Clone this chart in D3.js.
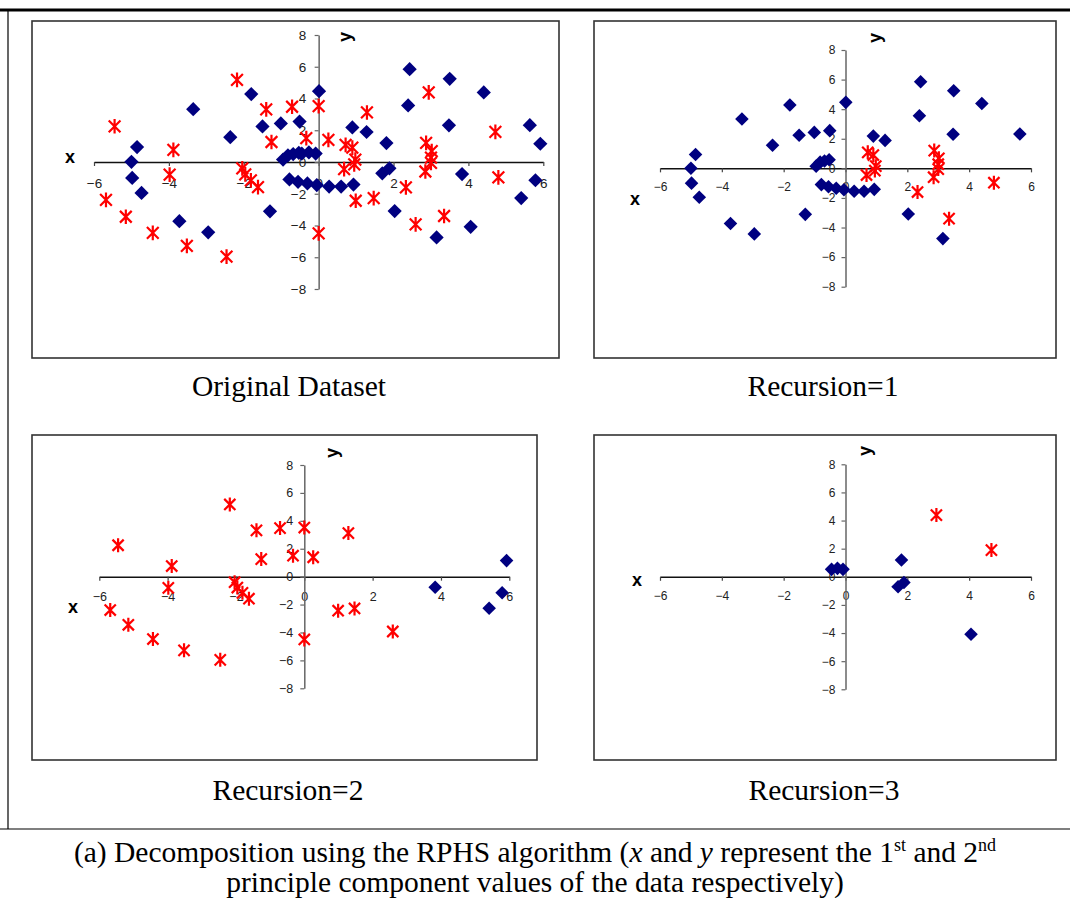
<!DOCTYPE html>
<html lang="en">
<head>
  <meta charset="UTF-8" />
  <title>RPHS decomposition</title>
  <script src="https://d3js.org/d3.v7.min.js"></script>
  <style>
    body { margin: 0; background: #fff; }
    svg text { font-family: "Liberation Sans", Arial, sans-serif; }
    .cap { font-family: "Liberation Serif", "Times New Roman", serif; fill: #000; }
  </style>
</head>
<body>
  <svg id="fig" width="1070" height="898"></svg>

  <script>
    // axis ticks shared by all four panels
    const xTicks = [-6, -4, -2, 0, 2, 4, 6];
    const yTicks = [-8, -6, -4, -2, 0, 2, 4, 6, 8];

    // Recursion=1 (points kept after the first split)
    const rec1Blue = [
      [-3.35, 3.33], [-1.8, 4.28], [-2.36, 1.56], [-1.5, 2.24], [-1.01, 2.43], [-0.51, 2.55],
      [-4.85, 0.94], [-5.0, 0.01], [-4.98, -1.0], [-4.73, -1.95], [-3.72, -3.73], [-2.95, -4.43],
      [-1.3, -3.11], [-0.95, 0.15], [-0.82, 0.42], [-0.68, 0.5], [-0.53, 0.58],
      [-0.78, -1.1], [-0.55, -1.25], [-0.3, -1.35], [-0.05, -1.45], [0.28, -1.55], [0.6, -1.55], [0.93, -1.42],
      [0.01, 4.46], [2.43, 5.85], [2.39, 3.56], [3.5, 5.24], [4.41, 4.38], [3.48, 2.31], [5.64, 2.32],
      [0.9, 2.18], [1.28, 1.89], [2.03, -3.09], [3.15, -4.75]
    ];
    const rec1Red = [
      [0.68, -0.45], [0.72, 1.08], [0.9, 0.9], [0.98, 0.15], [0.95, -0.15], [2.33, -1.6],
      [2.87, 1.2], [3.02, 0.68], [3.0, 0.28], [3.0, -0.05], [2.85, -0.6], [3.35, -3.4], [4.8, -0.97]
    ];

    // Recursion=2
    const rec2Blue = [[3.83, -0.76], [5.92, 1.15], [5.79, -1.15], [5.41, -2.27]];
    const rec2Red = [
      [-5.45, 2.25], [-5.68, -2.39], [-5.15, -3.45], [-4.43, -4.47], [-3.52, -5.28], [-2.46, -5.96],
      [-3.88, 0.76], [-3.98, -0.8], [-2.18, 5.17], [-1.4, 3.32], [-0.71, 3.48], [0.0, 3.52],
      [-1.26, 1.26], [-0.33, 1.5], [0.26, 1.39], [-2.04, -0.4], [-1.96, -0.78], [-1.81, -1.16],
      [-1.62, -1.58], [0.0, -4.5], [1.29, 3.12], [0.99, -2.44], [1.47, -2.28], [2.59, -3.93]
    ];

    // Recursion=3
    const rec3Blue = [[-0.45, 0.53], [-0.26, 0.6], [-0.08, 0.53], [1.81, 1.19], [1.7, -0.71], [1.89, -0.4], [4.06, -4.08]];
    const rec3Red = [[2.94, 4.39], [4.72, 1.9]];

    // original dataset = everything
    const origBlue = rec1Blue.concat(rec2Blue, rec3Blue);
    const origRed = rec1Red.concat(rec2Red, rec3Red);

    const panels = [
      { title: "Original Dataset", blue: origBlue, red: origRed,
        box: [32, 21, 559, 358], xr: [94, 543.3], yr: [289, 35], fs: 13.5, xpad: 12.5, ypad: 8.5,
        xl: [70, 163], yl: [345, 37], cap: [289, 396], mk: 1.1 },
      { title: "Recursion=1", blue: rec1Blue, red: rec1Red,
        box: [594, 21, 1056, 358], xr: [660, 1031], yr: [286.7, 50], fs: 12, xpad: 10.3, ypad: 6,
        xl: [635, 205], yl: [875, 38], cap: [823, 396], mk: 1 },
      { title: "Recursion=2", blue: rec2Blue, red: rec2Red,
        box: [32, 435, 537, 760], xr: [99.3, 509.3], yr: [688.3, 465], fs: 12.5, xpad: 11.3, ypad: 7,
        xl: [73, 613], yl: [332, 453], cap: [288, 800], mk: 1 },
      { title: "Recursion=3", blue: rec3Blue, red: rec3Red,
        box: [594, 435, 1056, 760], xr: [660, 1031], yr: [689.3, 464.3], fs: 12, xpad: 10.5, ypad: 6,
        xl: [637, 586], yl: [865, 451], cap: [824, 800], mk: 1 }
    ];

    const svg = d3.select("#fig");

    // page frame lines
    svg.append("line").attr("x1", 0).attr("x2", 1070).attr("y1", 10).attr("y2", 10)
      .attr("stroke", "#000").attr("stroke-width", 3);
    svg.append("line").attr("x1", 8).attr("x2", 8).attr("y1", 10).attr("y2", 829)
      .attr("stroke", "#000").attr("stroke-width", 1.2);
    svg.append("line").attr("x1", 0).attr("x2", 1070).attr("y1", 829).attr("y2", 829)
      .attr("stroke", "#000").attr("stroke-width", 1.2);

    const diamond = d3.symbol(d3.symbolSquare);
    function star(r) {
      const d = r * 0.8;
      return `M0,${-r}L0,${r}M${-d},${-d}L${d},${d}M${-d},${d}L${d},${-d}`;
    }

    panels.forEach(p => {
      const [x0, y0, x1, y1] = p.box;
      svg.append("rect")
        .attr("x", x0).attr("y", y0).attr("width", x1 - x0).attr("height", y1 - y0)
        .attr("fill", "#fff").attr("stroke", "#333").attr("stroke-width", 1.6);

      const x = d3.scaleLinear().domain([-6, 6]).range(p.xr);
      const y = d3.scaleLinear().domain([-8, 8]).range(p.yr);

      const g = svg.append("g");

      // x axis through y=0
      const gx = g.append("g")
        .attr("transform", `translate(0,${y(0)})`)
        .call(d3.axisBottom(x).tickValues(xTicks).tickSizeInner(4).tickSizeOuter(0).tickPadding(p.xpad));
      gx.select(".domain").attr("stroke", "#111").attr("stroke-width", 1.5);
      gx.selectAll(".tick line").attr("stroke", "#444").attr("stroke-width", 1.2);
      gx.selectAll("text").style("font-size", p.fs + "px").attr("fill", "#222")
        .style("font-family", "'Liberation Sans', Arial, sans-serif");

      // y axis through x=0
      const gy = g.append("g")
        .attr("transform", `translate(${x(0)},0)`)
        .call(d3.axisLeft(y).tickValues(yTicks).tickSizeInner(4).tickSizeOuter(0).tickPadding(p.ypad));
      gy.select(".domain").attr("stroke", "#666").attr("stroke-width", 1.5);
      gy.selectAll(".tick line").attr("stroke", "#666").attr("stroke-width", 1.2);
      gy.selectAll("text").style("font-size", p.fs + "px").attr("fill", "#222")
        .style("font-family", "'Liberation Sans', Arial, sans-serif");

      // axis titles
      g.append("text").attr("x", p.xl[0]).attr("y", p.xl[1])
        .attr("text-anchor", "middle").attr("font-weight", "bold").style("font-size", "18px")
        .text("x");
      g.append("text")
        .attr("transform", `translate(${p.yl[0]},${p.yl[1]}) rotate(-90)`)
        .attr("text-anchor", "middle").attr("dy", "0.35em")
        .attr("font-weight", "bold").style("font-size", "18px")
        .text("y");

      // markers
      g.selectAll(".blue").data(p.blue).join("path")
        .attr("class", "blue")
        .attr("d", diamond.size(92 * p.mk))
        .attr("transform", d => `translate(${x(d[0])},${y(d[1])}) rotate(45)`)
        .attr("fill", "#000080");

      g.selectAll(".red").data(p.red).join("path")
        .attr("class", "red")
        .attr("d", star(7 * Math.sqrt(p.mk)))
        .attr("transform", d => `translate(${x(d[0])},${y(d[1])})`)
        .attr("fill", "none").attr("stroke", "#ff0000").attr("stroke-width", 2.2);

      // panel caption
      svg.append("text").attr("class", "cap")
        .attr("x", p.cap[0]).attr("y", p.cap[1])
        .attr("text-anchor", "middle").style("font-size", "29.5px")
        .text(p.title);
    });

    // figure caption
    const c1 = svg.append("text").attr("class", "cap")
      .attr("x", 535).attr("y", 862).attr("text-anchor", "middle").style("font-size", "29.5px");
    c1.append("tspan").text("(a) Decomposition using the RPHS algorithm (");
    c1.append("tspan").attr("font-style", "italic").text("x");
    c1.append("tspan").text(" and ");
    c1.append("tspan").attr("font-style", "italic").text("y");
    c1.append("tspan").text(" represent the 1");
    c1.append("tspan").style("font-size", "18px").attr("dy", -11).text("st");
    c1.append("tspan").attr("dy", 11).text(" and 2");
    c1.append("tspan").style("font-size", "18px").attr("dy", -11).text("nd");

    svg.append("text").attr("class", "cap")
      .attr("x", 535).attr("y", 892).attr("text-anchor", "middle").style("font-size", "29.5px")
      .text("principle component values of the data respectively)");
  </script>
</body>
</html>
